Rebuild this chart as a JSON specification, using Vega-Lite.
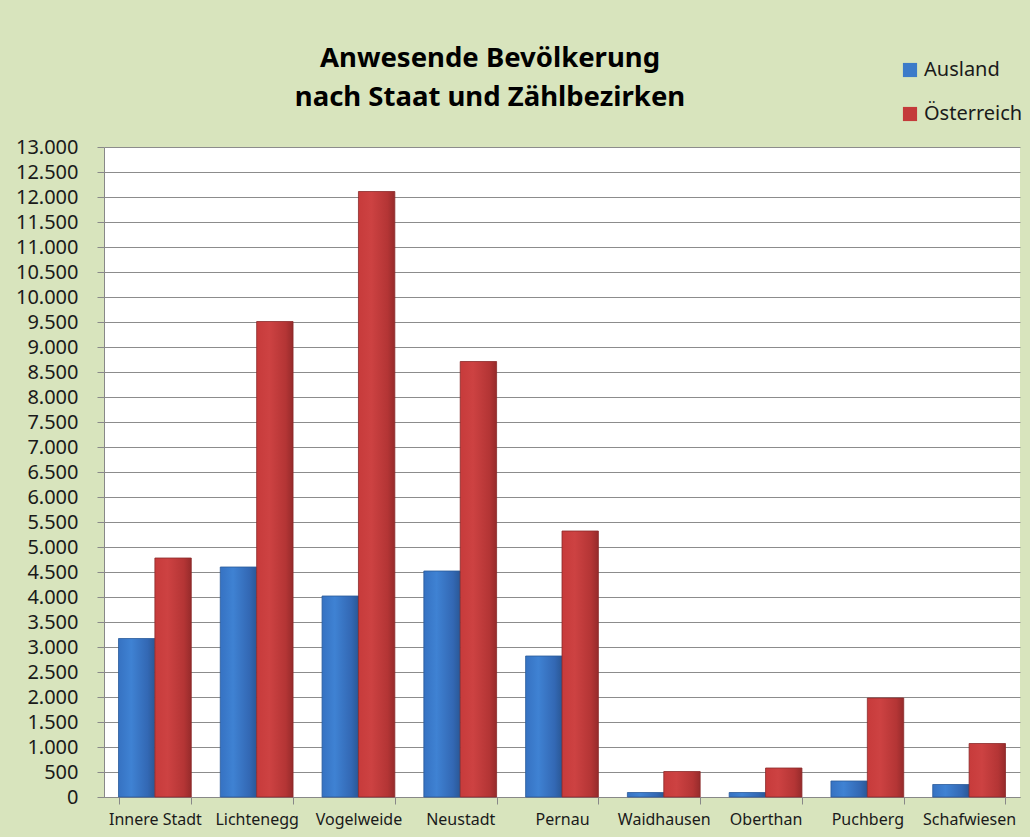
{
  "$schema": "https://vega.github.io/schema/vega-lite/v6.json",
  "width": 916,
  "height": 650,
  "autosize": {"type": "none"},
  "padding": {"left": 104, "top": 147, "right": 10, "bottom": 40},
  "background": "#d8e4bd",
  "config": {
    "locale": {"number": {"decimal": ",", "thousands": ".", "grouping": [3], "currency": ["", " €"]}},
    "view": {"fill": "#ffffff", "stroke": null},
    "font": "Noto Sans"
  },
  "title": {
    "text": ["Anwesende Bevölkerung", "nach Staat und Zählbezirken"],
    "anchor": "middle",
    "frame": "group",
    "dx": -72,
    "dy": 91,
    "offset": 40,
    "font": "Noto Sans",
    "fontSize": 27.5,
    "fontWeight": "bold",
    "color": "#000000",
    "lineHeight": 39
  },
  "data": {
    "values": [
      {"Bezirk": "Innere Stadt", "Staat": "Ausland", "Wert": 3170},
      {"Bezirk": "Innere Stadt", "Staat": "Österreich", "Wert": 4780},
      {"Bezirk": "Lichtenegg", "Staat": "Ausland", "Wert": 4600},
      {"Bezirk": "Lichtenegg", "Staat": "Österreich", "Wert": 9510},
      {"Bezirk": "Vogelweide", "Staat": "Ausland", "Wert": 4020},
      {"Bezirk": "Vogelweide", "Staat": "Österreich", "Wert": 12110},
      {"Bezirk": "Neustadt", "Staat": "Ausland", "Wert": 4520},
      {"Bezirk": "Neustadt", "Staat": "Österreich", "Wert": 8710},
      {"Bezirk": "Pernau", "Staat": "Ausland", "Wert": 2820},
      {"Bezirk": "Pernau", "Staat": "Österreich", "Wert": 5320},
      {"Bezirk": "Waidhausen", "Staat": "Ausland", "Wert": 90},
      {"Bezirk": "Waidhausen", "Staat": "Österreich", "Wert": 510},
      {"Bezirk": "Oberthan", "Staat": "Ausland", "Wert": 90},
      {"Bezirk": "Oberthan", "Staat": "Österreich", "Wert": 580},
      {"Bezirk": "Puchberg", "Staat": "Ausland", "Wert": 320},
      {"Bezirk": "Puchberg", "Staat": "Österreich", "Wert": 1980},
      {"Bezirk": "Schafwiesen", "Staat": "Ausland", "Wert": 250},
      {"Bezirk": "Schafwiesen", "Staat": "Österreich", "Wert": 1070}
    ]
  },
  "encoding": {
    "x": {
      "field": "Bezirk",
      "type": "nominal",
      "sort": null,
      "scale": {"paddingInner": 0.285, "paddingOuter": 0.1425},
      "axis": {
        "title": null,
        "labelAngle": 0,
        "labelFont": "Noto Sans",
        "labelFontSize": 16,
        "labelColor": "#1a1a1a",
        "labelPadding": 7,
        "tickBand": "extent",
        "tickSize": 7,
        "tickColor": "#888888",
        "domainColor": "#888888",
        "grid": false
      }
    },
    "xOffset": {"field": "Staat", "type": "nominal", "sort": ["Ausland", "Österreich"]},
    "y": {
      "field": "Wert",
      "type": "quantitative",
      "scale": {"domain": [0, 13000], "nice": false},
      "axis": {
        "title": null,
        "values": [0, 500, 1000, 1500, 2000, 2500, 3000, 3500, 4000, 4500, 5000, 5500, 6000, 6500, 7000, 7500, 8000, 8500, 9000, 9500, 10000, 10500, 11000, 11500, 12000, 12500, 13000],
        "format": ",.0f",
        "labelFont": "Noto Sans",
        "labelFontSize": 20,
        "labelColor": "#1a1a1a",
        "labelPadding": 19,
        "tickSize": 7,
        "tickColor": "#888888",
        "domainColor": "#888888",
        "gridColor": "#8c8c8c",
        "gridWidth": 1
      }
    }
  },
  "layer": [
    {
      "mark": {"type": "bar", "strokeWidth": 0.8},
      "encoding": {
        "fill": {
          "condition": {
            "test": "datum.Staat === 'Ausland'",
            "value": {
              "gradient": "linear", "x1": 0, "x2": 1, "y1": 0, "y2": 0,
              "stops": [
                {"offset": 0, "color": "#3672c2"},
                {"offset": 0.35, "color": "#3f82d3"},
                {"offset": 0.8, "color": "#3368b4"},
                {"offset": 1, "color": "#2a5896"}
              ]
            }
          },
          "value": {
            "gradient": "linear", "x1": 0, "x2": 1, "y1": 0, "y2": 0,
            "stops": [
              {"offset": 0, "color": "#c73b3b"},
              {"offset": 0.35, "color": "#cd4242"},
              {"offset": 0.8, "color": "#b43535"},
              {"offset": 1, "color": "#962b2b"}
            ]
          }
        },
        "stroke": {
          "condition": {"test": "datum.Staat === 'Ausland'", "value": "#2a5a9a"},
          "value": "#8a2a2a"
        }
      }
    },
    {
      "mark": {"type": "bar", "opacity": 0},
      "encoding": {
        "color": {
          "field": "Staat",
          "type": "nominal",
          "scale": {"domain": ["Ausland", "Österreich"], "range": ["#3c7bc9", "#c43a3a"]},
          "legend": {
            "title": null,
            "orient": "none",
            "legendX": 796,
            "legendY": -87,
            "symbolType": "square",
            "symbolSize": 200,
            "symbolOpacity": 1,
            "symbolStrokeWidth": 0,
            "labelFont": "Noto Sans",
            "labelFontSize": 20,
            "labelColor": "#1a1a1a",
            "labelOffset": 4,
            "rowPadding": 24
          }
        }
      }
    }
  ]
}
